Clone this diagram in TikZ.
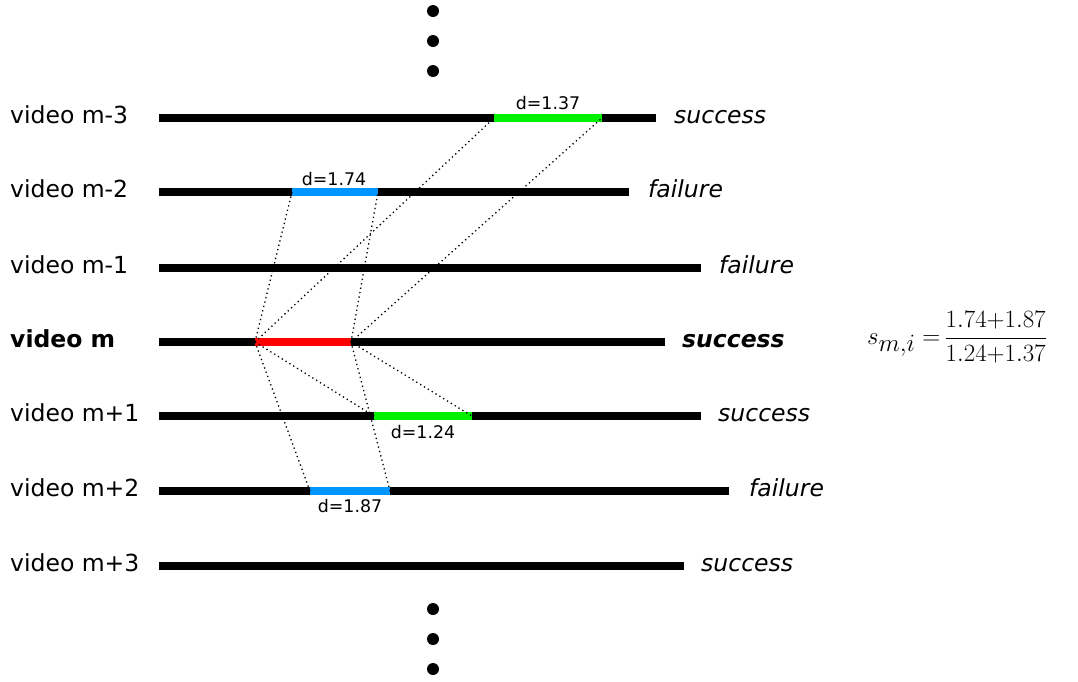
\documentclass[tikz,border=0pt]{standalone}
\usepackage{fontspec}
\setmainfont{DejaVu Sans}
\definecolor{segGreen}{RGB}{0,240,0}
\definecolor{segBlue}{RGB}{0,150,255}
\definecolor{segRed}{RGB}{255,0,0}
\begin{document}
\begin{tikzpicture}[x=1pt,y=-1pt,
  track/.style={line width=8pt, black},
  seg/.style={line width=8pt},
  link/.style={line width=1.3pt, dash pattern=on 1.3pt off 3.2pt},
  vlab/.style={anchor=base west, inner sep=0pt, font=\fontsize{23.5}{28}\selectfont},
  rlab/.style={anchor=base west, inner sep=0pt, font=\fontsize{23.5}{28}\selectfont\itshape},
  dlab/.style={inner sep=0pt, font=\fontsize{17.4}{21}\selectfont},
  vdot/.style={circle, fill=black, inner sep=0pt, minimum size=12pt}]
\useasboundingbox (0,0) rectangle (1078,681);
% vertical dots
\node[vdot] (t1) at (433,11) {};
\node[vdot] (t2) at (433,41) {};
\node[vdot] (t3) at (433,71) {};
\node[vdot] (b1) at (433,609) {};
\node[vdot] (b2) at (433,639) {};
\node[vdot] (b3) at (433,669) {};
% tracks
\coordinate (L1) at (159,118); \coordinate (R1) at (656,118);
\coordinate (L2) at (159,192); \coordinate (R2) at (629,192);
\coordinate (L3) at (159,268); \coordinate (R3) at (701,268);
\coordinate (L4) at (159,342); \coordinate (R4) at (665,342);
\coordinate (L5) at (159,416); \coordinate (R5) at (701,416);
\coordinate (L6) at (159,491); \coordinate (R6) at (729,491);
\coordinate (L7) at (159,566); \coordinate (R7) at (684,566);
\foreach \i in {1,...,7} {\draw[track] (L\i) -- (R\i);}
% left labels
\node[vlab] (v1) at (10,123) {video m-3};
\node[vlab] (v2) at (10,197) {video m-2};
\node[vlab] (v3) at (10,273) {video m-1};
\node[vlab, font=\fontsize{23.5}{28}\selectfont\bfseries] (v4) at (10,347) {video m};
\node[vlab] (v5) at (10,421) {video m+1};
\node[vlab] (v6) at (10,496) {video m+2};
\node[vlab] (v7) at (10,571) {video m+3};
% right labels
\node[rlab] (s1) at (674,123) {success};
\node[rlab] (s2) at (648,197) {failure};
\node[rlab] (s3) at (719,273) {failure};
\node[rlab, font=\fontsize{23.5}{28}\selectfont\bfseries\itshape] (s4) at (682,347) {success};
\node[rlab] (s5) at (718,421) {success};
\node[rlab] (s6) at (749,496) {failure};
\node[rlab] (s7) at (701,571) {success};
% segments
\coordinate (a1) at (494,118); \coordinate (a2) at (602,118);
\coordinate (c1) at (292,192); \coordinate (c2) at (378,192);
\coordinate (r1) at (255,342); \coordinate (r2) at (351,342);
\coordinate (e1) at (374,416); \coordinate (e2) at (472,416);
\coordinate (f1) at (310,491); \coordinate (f2) at (390,491);
\draw[seg, segGreen] (a1) -- (a2);
\draw[seg, segBlue] (c1) -- (c2);
\draw[seg, segRed] (r1) -- (r2);
\draw[seg, segGreen] (e1) -- (e2);
\draw[seg, segBlue] (f1) -- (f2);
% distance labels
\node[dlab] (da) at (548,103) {d=1.37};
\node[dlab] (dc) at (334,179) {d=1.74};
\node[dlab] (de) at (423,432) {d=1.24};
\node[dlab] (df) at (350,506) {d=1.87};
% dotted links
\draw[link] (r1) -- (c1);
\draw[link] (r2) -- (c2);
\draw[link] (r1) -- (a1);
\draw[link] (r2) -- (a2);
\draw[link] (r1) -- (e1);
\draw[link] (r2) -- (e2);
\draw[link] (r1) -- (f1);
\draw[link] (r2) -- (f2);
% formula
\node[anchor=base west, inner sep=0pt] (fm) at (867,344)
  {\fontsize{36}{42}\selectfont $s_{m,i} = \,$\fontsize{29}{35}\selectfont$\displaystyle\frac{1.74{+}1.87}{1.24{+}1.37}$};
\end{tikzpicture}
\end{document}
